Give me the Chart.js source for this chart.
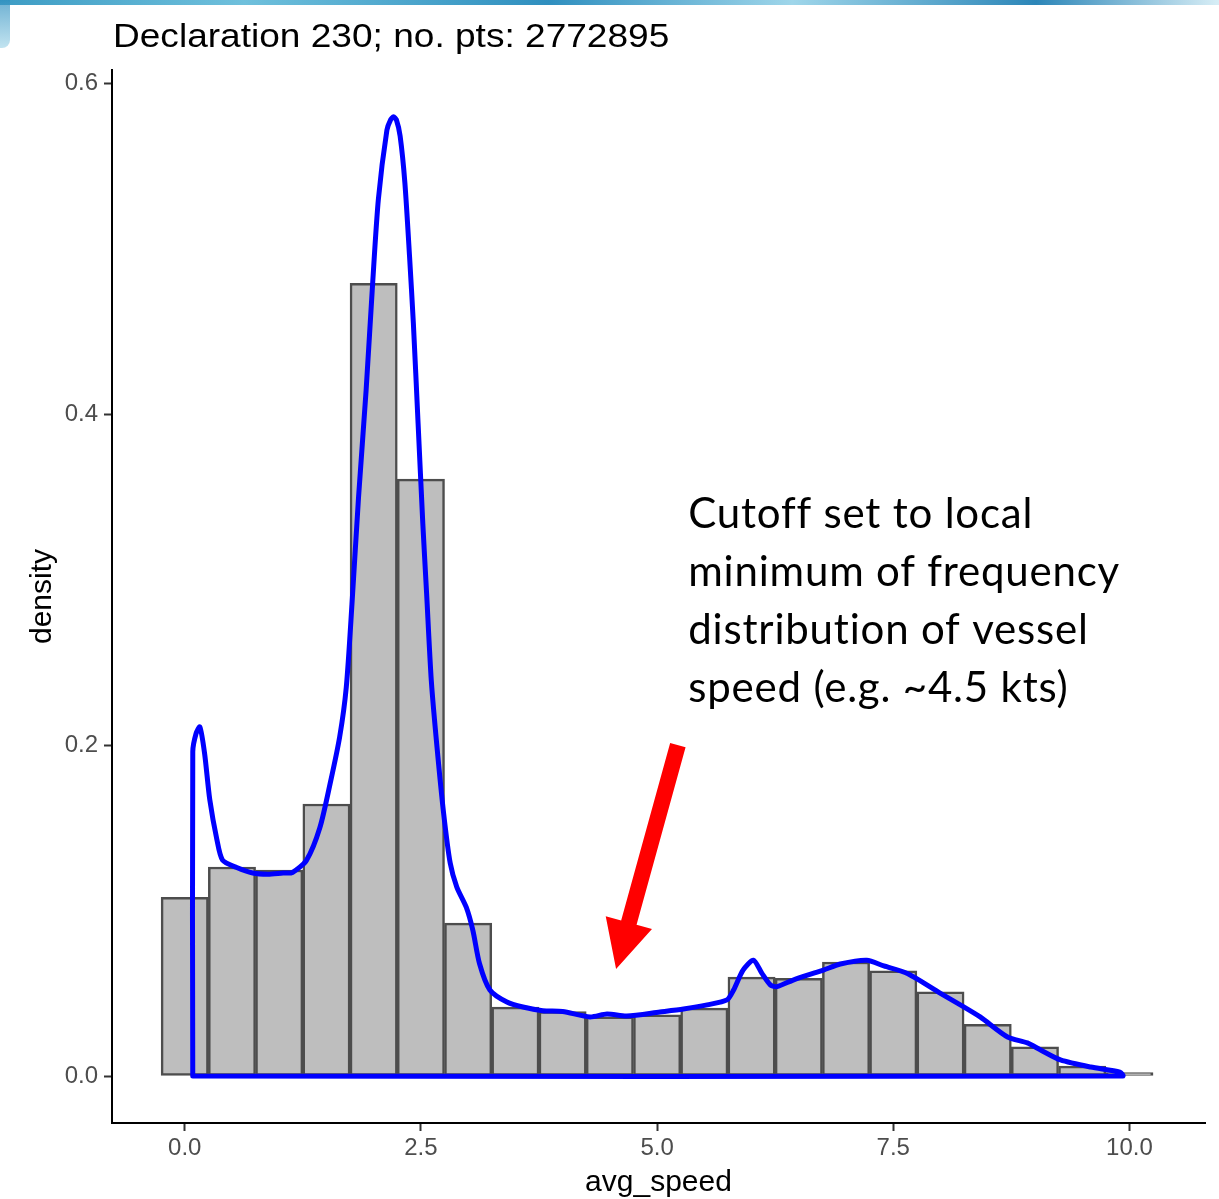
<!DOCTYPE html>
<html>
<head>
<meta charset="utf-8">
<script src="https://cdn.jsdelivr.net/npm/chart.js@4"></script>
<style>
  html,body{margin:0;padding:0;background:#fff;}
  #wrap{position:relative;width:1219px;height:1199px;overflow:hidden;}
  #topstrip{position:absolute;left:0;top:0;width:1219px;height:5px;
    background:linear-gradient(90deg,#3d9cc4 0%,#6fc0dc 20%,#2f8fbf 45%,#9fd6ea 65%,#2c86b8 85%,#d8eef6 100%);}
  #leftblob{position:absolute;left:0;top:0;width:10px;height:48px;
    background:linear-gradient(180deg,#2f8fbf,#a8d8ea);border-bottom-right-radius:8px;opacity:0.7;}
  canvas{position:absolute;left:0;top:0;}
</style>
</head>
<body>
<div id="wrap">
  <div id="topstrip"></div>
  <div id="leftblob"></div>
  <canvas id="c" width="1219" height="1199"></canvas>
</div>
<script>
// ---- data ----
const binCenters = [0,0.5,1,1.5,2,2.5,3,3.5,4,4.5,5,5.5,6,6.5,7,7.5,8,8.5,9,9.5,10];
const binDensity = [0.108,0.1263,0.1245,0.1644,0.479,0.3607,0.0924,0.0416,0.0389,0.0357,0.0369,0.041,0.0598,0.059,0.0689,0.0636,0.0508,0.0313,0.0177,0.006,0.002];

const kdeX = [0.085,0.085,0.12,0.16,0.21,0.265,0.34,0.40,0.55,0.72,0.88,1.04,1.14,1.29,1.43,1.54,1.64,1.71,1.77,1.84,1.92,1.99,2.05,2.14,2.18,2.21,2.24,2.28,2.33,2.38,2.42,2.47,2.52,2.56,2.61,2.67,2.74,2.81,2.88,2.98,3.05,3.12,3.23,3.41,3.58,3.79,4.00,4.29,4.47,4.68,5.03,5.28,5.53,5.74,5.81,5.91,6.02,6.11,6.20,6.27,6.44,6.65,6.76,6.94,7.22,7.40,7.65,8.00,8.21,8.42,8.71,8.92,9.06,9.27,9.59,9.90,9.93,0.085];
const kdeY = [0,0.196,0.207,0.211,0.195,0.167,0.143,0.1305,0.126,0.1227,0.122,0.1227,0.123,0.1305,0.150,0.177,0.205,0.235,0.285,0.35,0.4145,0.48,0.53,0.5716,0.578,0.5797,0.578,0.568,0.54,0.495,0.455,0.3946,0.334,0.292,0.239,0.199,0.159,0.1287,0.1142,0.102,0.088,0.068,0.052,0.0447,0.0417,0.0395,0.039,0.0357,0.0375,0.0363,0.0387,0.0405,0.043,0.046,0.052,0.064,0.070,0.062,0.055,0.054,0.058,0.062,0.064,0.0677,0.070,0.0665,0.062,0.050,0.043,0.0357,0.0236,0.020,0.0157,0.0097,0.0054,0.0024,0,0];

const xTickValues = [0,2.5,5,7.5,10];
const xTickLabels = ["0.0","2.5","5.0","7.5","10.0"];
const yTickValues = [0,0.2,0.4,0.6];
const yTickLabels = ["0.0","0.2","0.4","0.6"];

const titleText = "Declaration 230; no. pts: 2772895";
const xAxisTitle = "avg_speed";
const yAxisTitle = "density";
const noteLines = ["Cutoff set to local","minimum of frequency","distribution of vessel","speed (e.g. ~4.5 kts)"];
const noteAnchor = {x:5.33, y:0.331};
const arrowTail = {x:5.22, y:0.2};
const arrowTip = {x:4.566, y:0.0647};

// ---- chart ----
const barData = binCenters.map((x,i)=>({x:x,y:binDensity[i]}));
const kdeData = kdeX.map((x,i)=>({x:x,y:kdeY[i]}));

const extras = {
  id:'extras',
  afterDraw(chart){
    const ctx = chart.ctx, ca = chart.chartArea;
    const xs = chart.scales.x, ys = chart.scales.y;
    ctx.save();
    // title
    ctx.fillStyle = '#000';
    ctx.font = '34px "Liberation Sans", Arial, sans-serif';
    ctx.textAlign = 'left'; ctx.textBaseline = 'alphabetic';
    ctx.save();
    ctx.translate(ca.left + 1, 47);
    ctx.scale(1.09, 1);
    ctx.fillText(titleText, 0, 0);
    ctx.restore();
    // x axis title
    ctx.font = '30px "Liberation Sans", Arial, sans-serif';
    ctx.textAlign = 'center';
    ctx.fillText(xAxisTitle, (ca.left+ca.right)/2, 1191);
    // y axis title
    ctx.save();
    ctx.translate(51, (ca.top+ca.bottom)/2);
    ctx.rotate(-Math.PI/2);
    ctx.fillText(yAxisTitle, 0, 0);
    ctx.restore();
    // annotation text
    ctx.font = '42px Lato, "Open Sans", sans-serif';
    ctx.textAlign = 'left';
    try { ctx.letterSpacing = '0.8px'; } catch(e) {}
    const nx = xs.getPixelForValue(noteAnchor.x), ny = ys.getPixelForValue(noteAnchor.y);
    noteLines.forEach((t,i)=>ctx.fillText(t, nx, ny + i*58));
    try { ctx.letterSpacing = '0px'; } catch(e) {}
    // arrow
    const tx = xs.getPixelForValue(arrowTail.x), ty = ys.getPixelForValue(arrowTail.y);
    const px = xs.getPixelForValue(arrowTip.x), py = ys.getPixelForValue(arrowTip.y);
    const dx = px-tx, dy = py-ty, L = Math.hypot(dx,dy);
    const ux = dx/L, uy = dy/L, nxv = -uy, nyv = ux;
    const shaftW = 8, headW = 24, headL = 48;
    const bx = px - ux*headL, by = py - uy*headL;
    ctx.fillStyle = '#ff0000';
    ctx.beginPath();
    ctx.moveTo(tx + nxv*shaftW, ty + nyv*shaftW);
    ctx.lineTo(bx + nxv*shaftW, by + nyv*shaftW);
    ctx.lineTo(bx + nxv*headW, by + nyv*headW);
    ctx.lineTo(px, py);
    ctx.lineTo(bx - nxv*headW, by - nyv*headW);
    ctx.lineTo(bx - nxv*shaftW, by - nyv*shaftW);
    ctx.lineTo(tx - nxv*shaftW, ty - nyv*shaftW);
    ctx.closePath();
    ctx.fill();
    ctx.restore();
  }
};

new Chart(document.getElementById('c'), {
  type:'bar',
  data:{
    datasets:[
      {
        type:'line',
        data:kdeData,
        borderColor:'#0000ff',
        borderWidth:5,
        pointRadius:0,
        fill:false,
        tension:0.25,
        borderJoinStyle:'round',
        borderCapStyle:'round',
        order:0
      },
      {
        type:'bar',
        data:barData,
        backgroundColor:'#bebebe',
        borderColor:'#4d4d4d',
        borderWidth:2.5,
        borderSkipped:false,
        barPercentage:1,
        categoryPercentage:1,
        order:1
      }
    ]
  },
  options:{
    responsive:false,
    animation:false,
    layout:{padding:{left:0,right:14,top:70,bottom:0}},
    plugins:{legend:{display:false},tooltip:{enabled:false},title:{display:false}},
    scales:{
      x:{
        type:'linear',
        offset:false,
        min:-0.77,
        max:10.8,
        grid:{display:true,drawOnChartArea:false,drawTicks:true,tickLength:8,tickWidth:2,tickColor:'#333',offset:false},
        border:{display:true,color:'#000',width:2},
        afterBuildTicks(s){ s.ticks = xTickValues.map(v=>({value:v})); },
        ticks:{
          color:'#4d4d4d',
          font:{family:'"Liberation Sans", Arial, sans-serif',size:24},
          padding:3,
          maxRotation:0,
          callback:(v)=>xTickLabels[xTickValues.indexOf(v)]
        },
        afterFit(s){ s.height = 76; }
      },
      y:{
        type:'linear',
        min:-0.0284,
        max:0.608,
        grid:{display:true,drawOnChartArea:false,drawTicks:true,tickLength:8,tickWidth:2,tickColor:'#333'},
        border:{display:true,color:'#000',width:2},
        afterBuildTicks(s){ s.ticks = yTickValues.map(v=>({value:v})); },
        ticks:{
          color:'#4d4d4d',
          font:{family:'"Liberation Sans", Arial, sans-serif',size:24},
          padding:6,
          callback:(v)=>yTickLabels[yTickValues.indexOf(v)]
        },
        afterFit(s){ s.width = 112; }
      }
    }
  },
  plugins:[extras]
});
</script>
</body>
</html>
